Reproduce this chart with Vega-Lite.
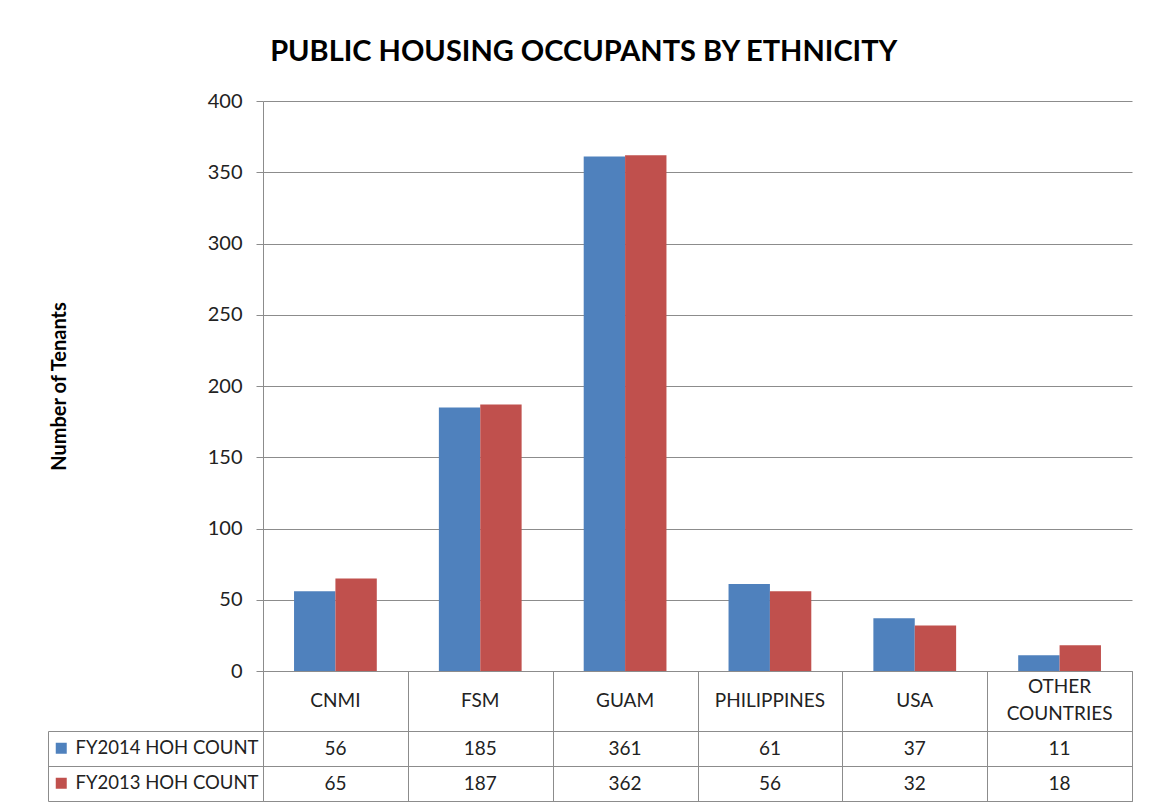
{
  "$schema": "https://vega.github.io/schema/vega-lite/v6.json",
  "background": "white",
  "padding": {"left": 47, "top": 38, "right": 12, "bottom": 6},
  "title": {"text": "PUBLIC HOUSING OCCUPANTS BY ETHNICITY", "font": "Lato", "fontSize": 29, "fontWeight": "bold", "color": "#000", "anchor": "middle", "offset": 24, "dx": -6},
  "datasets": {
    "d": [
      {"category": "CNMI", "series": "FY2014 HOH COUNT", "value": 56},
      {"category": "FSM", "series": "FY2014 HOH COUNT", "value": 185},
      {"category": "GUAM", "series": "FY2014 HOH COUNT", "value": 361},
      {"category": "PHILIPPINES", "series": "FY2014 HOH COUNT", "value": 61},
      {"category": "USA", "series": "FY2014 HOH COUNT", "value": 37},
      {"category": "OTHER COUNTRIES", "series": "FY2014 HOH COUNT", "value": 11},
      {"category": "CNMI", "series": "FY2013 HOH COUNT", "value": 65},
      {"category": "FSM", "series": "FY2013 HOH COUNT", "value": 187},
      {"category": "GUAM", "series": "FY2013 HOH COUNT", "value": 362},
      {"category": "PHILIPPINES", "series": "FY2013 HOH COUNT", "value": 56},
      {"category": "USA", "series": "FY2013 HOH COUNT", "value": 32},
      {"category": "OTHER COUNTRIES", "series": "FY2013 HOH COUNT", "value": 18}
    ]
  },
  "spacing": 0,
  "bounds": "flush",
  "resolve": {"scale": {"x": "independent", "color": "independent"}},
  "vconcat": [
    {
      "width": 869,
      "height": 570,
      "data": {"name": "d"},
      "mark": {"type": "bar"},
      "encoding": {
        "x": {"field": "category", "type": "nominal", "sort": ["CNMI", "FSM", "GUAM", "PHILIPPINES", "USA", "OTHER COUNTRIES"], "scale": {"paddingInner": 0.4286, "paddingOuter": 0.2143}, "axis": null},
        "xOffset": {"field": "series", "type": "nominal", "sort": ["FY2014 HOH COUNT", "FY2013 HOH COUNT"], "scale": {"paddingInner": 0, "paddingOuter": 0}},
        "y": {
          "field": "value", "type": "quantitative",
          "scale": {"domain": [0, 400], "nice": false},
          "axis": {
            "values": [0, 50, 100, 150, 200, 250, 300, 350, 400],
            "title": "Number of Tenants", "titleFontSize": 20, "titleFontWeight": "bold", "titleColor": "#000", "titlePadding": 138,
            "grid": true, "gridColor": "#8c8c8c", "domainColor": "#8c8c8c", "tickColor": "#8c8c8c", "tickSize": 7,
            "labelFontSize": 20, "labelPadding": 14, "labelColor": "#222"
          }
        },
        "color": {"field": "series", "type": "nominal", "scale": {"domain": ["FY2014 HOH COUNT", "FY2013 HOH COUNT"], "range": ["#4f81bd", "#c0504d"]}, "legend": null}
      }
    },
    {
      "width": 869,
      "height": 60,
      "data": {"name": "d"},
      "transform": [{"filter": "datum.series == 'FY2014 HOH COUNT'"}],
      "encoding": {
        "x": {"field": "category", "type": "nominal", "sort": ["CNMI", "FSM", "GUAM", "PHILIPPINES", "USA", "OTHER COUNTRIES"], "scale": {"paddingInner": 0, "paddingOuter": 0},
          "axis": {"orient": "top", "labels": false, "ticks": false, "domain": false, "grid": true, "tickBand": "extent", "gridColor": "#8c8c8c", "title": null}},
        "text": {"field": "category"}
      },
      "layer": [
        {
          "transform": [{"filter": "indexof(datum.category, ' ') < 0"}],
          "mark": {"type": "text", "fontSize": 19, "color": "#222"}
        },
        {
          "transform": [{"filter": "indexof(datum.category, ' ') >= 0"}],
          "mark": {"type": "text", "fontSize": 19, "color": "#222", "lineBreak": " ", "lineHeight": 27, "dy": -14}
        }
      ],
      "view": {"stroke": "#8c8c8c"}
    },
    {
      "width": 869,
      "height": 70,
      "data": {"name": "d"},
      "encoding": {
        "x": {"field": "category", "type": "nominal", "sort": ["CNMI", "FSM", "GUAM", "PHILIPPINES", "USA", "OTHER COUNTRIES"], "scale": {"paddingInner": 0, "paddingOuter": 0},
          "axis": {"orient": "top", "labels": false, "ticks": false, "domain": false, "grid": true, "tickBand": "extent", "gridColor": "#8c8c8c", "title": null}}
      },
      "layer": [
        {
          "mark": {"type": "text", "fontSize": 19, "color": "#222"},
          "encoding": {
            "y": {"field": "series", "type": "nominal", "sort": ["FY2014 HOH COUNT", "FY2013 HOH COUNT"], "scale": {"paddingInner": 0, "paddingOuter": 0},
              "axis": {"orient": "left", "labels": false, "domain": false, "ticks": true, "tickSize": 215, "tickBand": "extent", "tickColor": "#8c8c8c", "grid": true, "gridColor": "#8c8c8c", "title": null}},
            "text": {"field": "value", "type": "quantitative"}
          }
        },
        {
          "mark": {"type": "text", "fontSize": 19, "opacity": 0},
          "encoding": {
            "y": {"field": "series", "type": "nominal", "sort": ["FY2014 HOH COUNT", "FY2013 HOH COUNT"], "scale": {"paddingInner": 0, "paddingOuter": 0},
              "axis": {"orient": "left", "offset": 215, "labels": false, "ticks": false, "domain": true, "domainColor": "#8c8c8c", "grid": false, "title": null}},
            "text": {"field": "value", "type": "quantitative"},
            "color": {"field": "series", "type": "nominal", "sort": ["FY2014 HOH COUNT", "FY2013 HOH COUNT"],
              "scale": {"domain": ["FY2014 HOH COUNT", "FY2013 HOH COUNT"], "range": ["#4f81bd", "#c0504d"]},
              "legend": {"orient": "none", "legendX": -211, "legendY": 8, "title": null, "padding": 0, "symbolType": "square", "symbolSize": 121, "symbolOpacity": 1, "symbolStrokeWidth": 0, "labelFontSize": 18.5, "labelColor": "#222", "labelOffset": 5, "rowPadding": 16, "labelLimit": 400, "direction": "vertical"}
            }
          }
        }
      ],
      "resolve": {"scale": {"y": "independent"}, "axis": {"y": "independent"}},
      "view": {"stroke": "#8c8c8c"}
    }
  ],
  "config": {
    "font": "Lato",
    "view": {"stroke": null},
    "axis": {"labelFont": "Lato", "titleFont": "Lato"},
    "legend": {"labelFont": "Lato"},
    "text": {"font": "Lato"}
  }
}
